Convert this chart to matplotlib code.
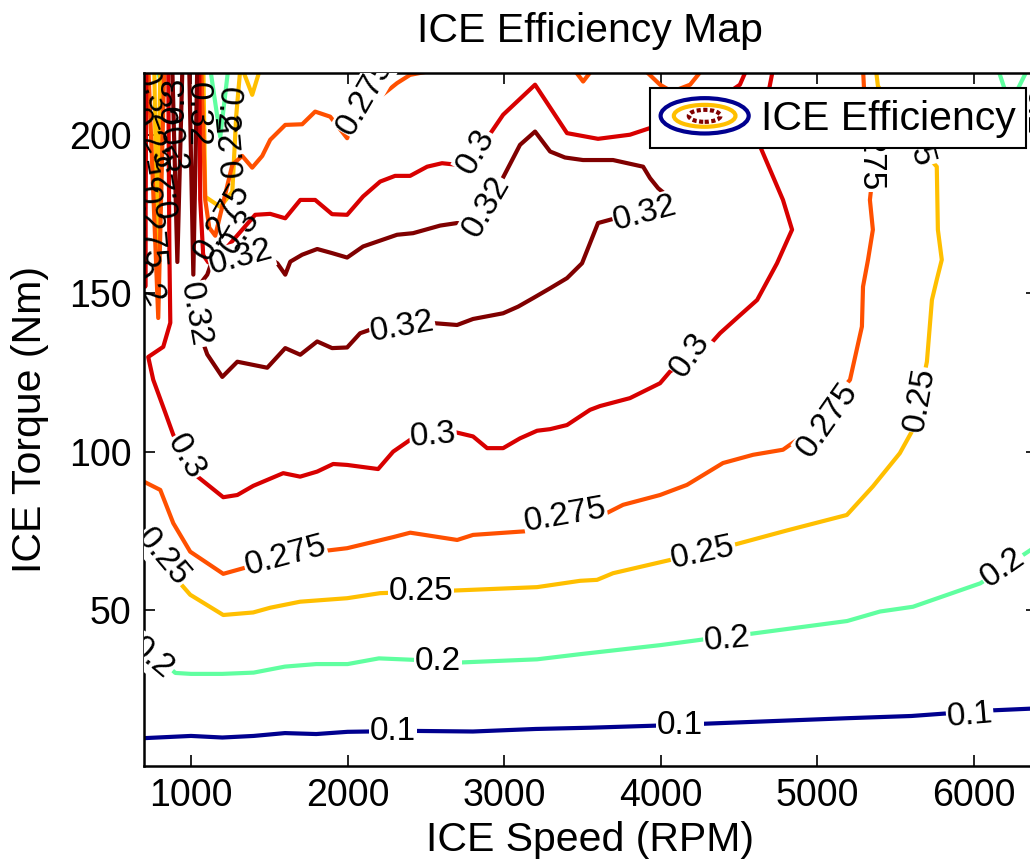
import matplotlib
matplotlib.use('Agg')
import matplotlib.pyplot as plt
from matplotlib.patches import Ellipse
from matplotlib.legend_handler import HandlerBase

plt.rcParams['font.family'] = ['Liberation Sans', 'DejaVu Sans']

# contour levels and their jet colours
levels = [0.1, 0.2, 0.25, 0.275, 0.3, 0.32]
level_colors = ['#00008F', '#60FFA0', '#FFBF00', '#FF5000', '#D80000', '#800000']

# ---- digitised iso-efficiency lines (rpm, Nm) ----
# 0.1
rpm_10 = [700, 1000, 1200, 1400, 1600, 1800, 2000, 2400, 2800, 3200, 3550, 4000, 4250, 5190, 5600, 5850, 6080, 6400]
trq_10 = [9.5, 10.2, 9.7, 10.2, 11.1, 10.8, 11.5, 11.8, 11.6, 12.4, 12.8, 13.5, 14.0, 15.8, 16.5, 17.4, 18.2, 18.9]

# 0.2
rpm_20 = [700, 900, 1000, 1200, 1400, 1600, 1800, 2000, 2200, 2440, 2720, 3210, 3480, 4000, 4290, 4550, 5190, 5400, 5610, 6040, 6400]
trq_20 = [39.0, 30.1, 29.8, 29.8, 30.2, 32.1, 32.9, 32.9, 34.7, 34.2, 33.4, 34.4, 36.0, 38.9, 40.8, 42.3, 46.5, 49.5, 51.0, 58.4, 70.2]
rpm_20a = [785, 804, 823]
trq_20a = [221, 217.4, 221]
rpm_20b = [1123, 1187, 1238]
trq_20b = [221, 199.4, 221]
rpm_20c = [6152, 6229, 6344]
trq_20c = [221, 209.5, 221]

# 0.25
rpm_25 = [700, 912, 995, 1206, 1397, 1506, 1697, 1997, 2208, 2668, 3210, 3485, 3593, 3695, 4078, 4461, 4805, 5188,
          5354, 5526, 5609, 5699, 5731, 5762, 5794, 5769, 5762, 5654, 5386, 5373]
trq_25 = [72.7, 59.5, 54.8, 48.4, 49.2, 50.7, 52.6, 53.7, 55.3, 56.1, 57.2, 59.2, 59.5, 61.6, 66.0, 70.5, 75.1, 80.0,
          89.0, 99.5, 106.9, 128.4, 147.9, 154.3, 160.6, 170.1, 190.0, 196.0, 215.5, 221]
rpm_25a = [766, 785, 804]
trq_25a = [221, 157.4, 221]
rpm_25b = [1079, 1091, 1187, 1264, 1289, 1315]
trq_25b = [221, 180.5, 177.3, 182.1, 206.2, 221]
rpm_25c = [1327, 1391, 1442]
trq_25c = [221, 212.7, 221]

# 0.275
rpm_275 = [700, 804, 887, 995, 1206, 1423, 1844, 1997, 2291, 2400, 2700, 2801, 3210, 3631, 3759, 3995, 4167, 4397,
           4589, 4780, 4901, 5208, 5284, 5291, 5323, 5354, 5335, 5348, 5316, 5291]
trq_275 = [90.5, 87.9, 77.4, 68.4, 61.4, 64.4, 68.6, 69.5, 73.0, 74.4, 72.1, 73.7, 75.1, 80.0, 83.2, 86.3, 89.5, 96.4,
           99.0, 100.6, 104.8, 122.7, 139.5, 152.1, 160.6, 170.1, 179.5, 185.3, 196.3, 221]
rpm_275a = [728, 791, 829]
trq_275a = [221, 142.2, 221]
rpm_275b = [1066, 1091, 1117, 1155, 1264, 1327, 1391, 1455, 1506, 1602, 1710, 1793, 1889, 1997, 2048, 2316, 2399, 2610]
trq_275b = [221, 179.5, 170.7, 168.2, 190.6, 193.4, 189.7, 193.4, 198.5, 203.2, 203.4, 207.4, 205.8, 199.0, 205.8,
            216.4, 219.0, 221]
rpm_275c = [3441, 3504, 3568]
trq_275c = [221, 216.9, 221]
rpm_275d = [3887, 3995, 4072, 4187, 4270]
trq_275d = [221, 215.9, 213.7, 215.9, 221]

# 0.3
rpm_30 = [855, 862, 868, 823, 727, 759, 836, 887, 1027, 1206, 1296, 1398, 1589, 1697, 1806, 1908, 1997, 2195, 2291,
          2399, 2674, 2801, 2891, 2993, 3101, 3210, 3293, 3401, 3548, 3612, 3803, 3995, 4059, 4302, 4378, 4506, 4615,
          4742, 4838, 4780, 4634, 4666, 4717]
trq_30 = [221, 163.8, 140.7, 133.1, 129.9, 122.7, 112.3, 105.3, 92.7, 85.6, 86.3, 89.2, 93.2, 92.1, 93.7, 96.1, 95.8,
          94.5, 100.0, 103.7, 106.3, 104.8, 101.1, 101.1, 104.2, 106.6, 107.1, 108.4, 113.2, 114.4, 116.9, 121.6, 125.3,
          133.2, 137.4, 143.1, 147.9, 159.5, 170.1, 179.5, 196.4, 208.0, 221]
rpm_30a = [1053, 1059, 1078, 1110, 1149, 1213, 1410, 1506, 1602, 1698, 1793, 1901, 1997, 2099, 2208, 2303, 2399, 2508,
           2603, 2738, 2891, 2993, 3197, 3401, 3599, 3803, 3931, 4250, 4505, 4550]
trq_30a = [221, 179.6, 162.1, 159.8, 161.1, 163.6, 174.8, 175.1, 173.7, 179.5, 179.5, 175.0, 174.8, 180.6, 185.3, 187.1,
           187.1, 190.0, 191.1, 190.4, 199.0, 206.4, 215.9, 200.6, 198.8, 200.1, 202.2, 207.3, 215.9, 221]
rpm_30b = [702, 708, 715]
trq_30b = [221, 152.1, 221]

# 0.32
rpm_32 = [1142, 1104, 1040, 1027, 1072, 1104, 1200, 1296, 1487, 1602, 1698, 1806, 1901, 1997, 2080, 2144, 2546, 2699,
          2801, 2993, 3089, 3185, 3293, 3401, 3497, 3599, 3695, 4027, 4059, 3983, 3931, 3887, 3695, 3503, 3388, 3293,
          3197, 3101, 2974, 2782, 2699, 2591, 2418, 2316, 2099, 1997, 1901, 1806, 1710, 1634, 1602, 1551, 1506, 1142]
trq_32 = [161.3, 155.9, 151.8, 142.9, 135.1, 130.7, 123.6, 128.4, 126.5, 132.7, 130.6, 134.8, 132.7, 132.9, 137.4,
          138.5, 140.6, 140.0, 141.9, 143.7, 145.8, 148.5, 151.6, 154.8, 159.5, 172.2, 173.5, 177.4, 180.1, 183.2,
          186.4, 190.0, 192.1, 192.1, 192.9, 194.8, 201.1, 196.9, 184.8, 171.6, 172.2, 171.4, 169.0, 168.5, 164.8,
          161.3, 162.7, 164.0, 162.2, 160.0, 155.9, 159.5, 160.9, 161.3]
rpm_32a = [881, 913, 945]
trq_32a = [221, 159.9, 221]
rpm_32b = [989, 1015, 1040]
trq_32b = [221, 155.9, 221]

lines_by_level = {
    0.1: [(rpm_10, trq_10)],
    0.2: [(rpm_20, trq_20), (rpm_20a, trq_20a), (rpm_20b, trq_20b), (rpm_20c, trq_20c)],
    0.25: [(rpm_25, trq_25), (rpm_25a, trq_25a), (rpm_25b, trq_25b), (rpm_25c, trq_25c)],
    0.275: [(rpm_275, trq_275), (rpm_275a, trq_275a), (rpm_275b, trq_275b), (rpm_275c, trq_275c), (rpm_275d, trq_275d)],
    0.3: [(rpm_30, trq_30), (rpm_30a, trq_30a), (rpm_30b, trq_30b)],
    0.32: [(rpm_32, trq_32), (rpm_32a, trq_32a), (rpm_32b, trq_32b)],
}

# contour labels: text, rpm, torque, angle, white background
clabels = [
    ('0.1', 2291, 11.5, 0, True), ('0.1', 4123, 13.4, 0, True), ('0.1', 5973, 16.8, 5, True),
    ('0.2', 2578, 33.6, 0, True), ('0.2', 4423, 40.5, 5, True), ('0.2', 6184, 63.3, 35, True),
    ('0.2', 753, 34.8, -40, True), ('0.2', 6388, 207.3, -90, True),
    ('0.25', 823, 66.7, -50, True), ('0.25', 2470, 55.7, 0, True), ('0.25', 4270, 68.0, 12, True),
    ('0.25', 5654, 116.3, 80, True), ('0.25', 5622, 200.1, -75, True),
    ('0.275', 1602, 67.1, 15, True), ('0.275', 3389, 79.7, 10, True), ('0.275', 5067, 110.0, 55, True),
    ('0.275', 5335, 195.3, -90, True), ('0.275', 2112, 212.1, 60, True),
    ('0.3', 964, 98.3, -60, True), ('0.3', 2546, 105.0, 5, True), ('0.3', 4187, 130.6, 55, True),
    ('0.3', 2821, 194.7, 60, True),
    ('0.32', 2349, 139.4, 10, True), ('0.32', 3899, 175.4, 15, True), ('0.32', 2885, 177.3, 60, True),
    ('0.32', 1321, 161.2, 15, True), ('0.32', 1027, 143.2, -80, True),
    # crowded low-speed corner
    ('0.3', 1315, 169.4, 55, False), ('0.275', 1200, 172.6, 60, False), ('0.32', 1040, 206.4, -90, False),
    ('0.2', 1225, 208.0, -95, False), ('0.25', 1264, 196.9, 95, False), ('0.32', 772, 211.1, -70, False),
    ('0.25', 740, 198.5, -60, False), ('0.3', 881, 195.3, -80, False), ('0.25', 836, 184.3, 100, False),
    ('0.275', 740, 170.7, -85, False), ('0.3', 900, 211.1, 90, False), ('0.2', 708, 152.7, -60, False),
]


class RingKey:
    pass


class RingHandler(HandlerBase):
    def create_artists(self, legend, orig_handle, xdescent, ydescent, width, height, fontsize, trans):
        cx = width / 2 - xdescent
        cy = height / 2 - ydescent
        rings = [(1.0, 1.0, '#00008F', '-'), (0.7, 0.62, '#FFBF00', '-'),
                 (0.36, 0.34, '#800000', (0, (1.0, 0.6)))]
        arts = []
        for fw, fh, col, ls in rings:
            e = Ellipse((cx, cy), width * fw, height * fh, fill=False, edgecolor=col,
                        linewidth=3, linestyle=ls, transform=trans)
            arts.append(e)
        return arts


fig = plt.figure(figsize=(10.30, 8.65), dpi=100)
ax = fig.add_axes([0.1398, 0.1148, 0.8667, 0.8012])

for lev, col in zip(levels, level_colors):
    for xs, ys in lines_by_level[lev]:
        ax.plot(xs, ys, color=col, lw=3, zorder=2)

for txt, x, y, rot, boxed in clabels:
    bb = dict(facecolor='white', edgecolor='none', pad=0.5) if boxed else None
    ax.text(x, y, txt, fontsize=24, rotation=rot, rotation_mode='anchor', ha='center', va='center',
            clip_on=True, bbox=bb, zorder=3)

ax.set_xlim(700, 6400)
ax.set_ylim(0.8, 219.7)
ax.set_xticks([1000, 2000, 3000, 4000, 5000, 6000])
ax.set_yticks([50, 100, 150, 200])
ax.tick_params(direction='in', length=8, width=1.2, top=True, right=True, labelsize=27, pad=9)
for sp in ax.spines.values():
    sp.set_linewidth(1.8)

ax.set_xlabel('ICE Speed (RPM)', fontsize=29.5, labelpad=5)
ax.set_ylabel('ICE Torque (Nm)', fontsize=29.5, labelpad=14)
ax.set_title('ICE Efficiency Map', fontsize=29.5, pad=22)

leg = ax.legend([RingKey()], ['ICE Efficiency'], handler_map={RingKey: RingHandler()},
                loc='upper right', bbox_to_anchor=(0.988, 0.978), borderaxespad=0,
                fontsize=29.5, fancybox=False, framealpha=1, edgecolor='black',
                handlelength=2.15, handleheight=0.95, handletextpad=0.3, borderpad=0.25)
leg.get_frame().set_linewidth(1.5)
leg.set_zorder(10)

fig.savefig('out.png', dpi=100)
